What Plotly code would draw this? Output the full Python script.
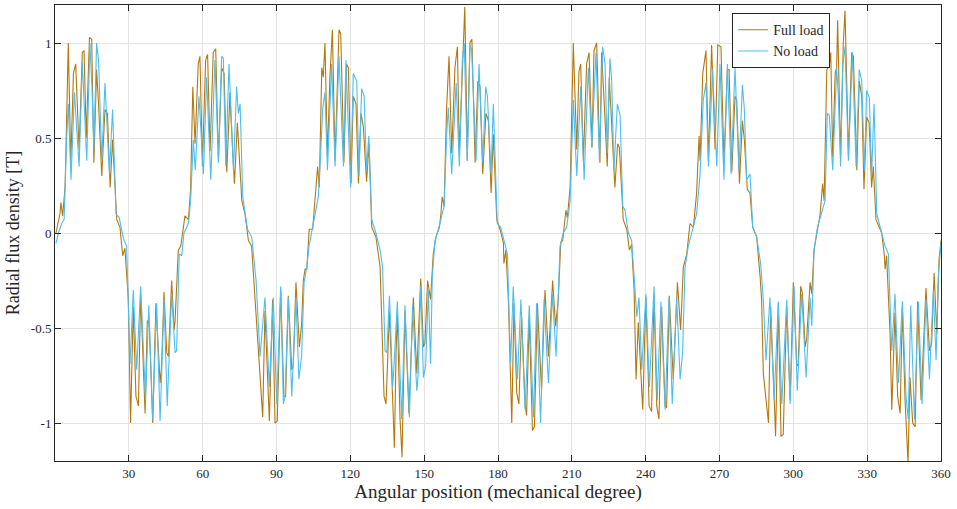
import plotly.graph_objects as go

# Full load: (mechanical degree, radial flux density [T]) read at turning points
full_load = [
    (0.4,0.0),(2.0,0.10),(2.4,0.16),(3.1,0.09),(4.1,0.24),(5.4,1.0),(6.4,0.37),(7.5,0.84),(8.4,0.89),(9.8,0.44),
    (11.1,0.95),(11.8,0.96),(12.7,0.50),(14.0,1.03),(14.9,1.02),(15.8,0.37),(16.9,0.86),(17.6,0.70),(19.0,0.30),
    (20.3,0.65),(21.3,0.63),(22.4,0.24),(23.4,0.49),(25.1,0.07),(26.4,0.03),(27.5,-0.12),(28.4,-0.08),(29.8,-0.35),
    (30.7,-1.0),(31.2,-0.70),(31.8,-0.39),(32.9,-0.86),(33.9,-0.91),(34.8,-0.32),(36.6,-0.95),(37.5,-0.46),
    (38.3,-0.48),(39.7,-1.0),(41.0,-0.37),(42.7,-0.79),(43.3,-0.70),
    (44.3,-0.31),(45.4,-0.63),(46.1,-0.65),(47.4,-0.25),(48.4,-0.51),(48.8,-0.46),(50.1,-0.09),(51.1,-0.07),
    (52.8,0.09),(54.2,0.07),(55.1,0.23),(56.0,0.77),(56.9,0.47),(58.2,0.89),(58.9,0.93),(59.9,0.35),(61.2,0.91),
    (62.0,0.94),(63.0,0.43),(64.3,0.95),(65.3,0.97),(66.4,0.38),(67.7,0.87),(68.7,0.84),(69.8,0.32),(71.1,0.74),
    (71.5,0.61),(72.9,0.26),(74.1,0.58),(74.6,0.47),(75.9,0.17),(77.2,0.10),(78.6,-0.04),(79.9,-0.07),(81.3,-0.35),
    (82.0,-0.51),(83.3,-0.81),(84.4,-0.97),(85.3,-0.41),(87.1,-0.99),
    (88.4,-0.35),(89.4,-1.0),(90.3,-0.99),(91.7,-0.30),(93.0,-0.86),(93.7,-0.86),(94.8,-0.33),(96.2,-0.72),
    (96.8,-0.70),(97.9,-0.26),(99.3,-0.60),(100.2,-0.48),(100.9,-0.25),(101.6,-0.19),(102.3,-0.19),(103.3,0.02),
    (104.7,0.02),(106.1,0.24),(106.7,0.35),(107.4,0.24),(108.4,0.87),(109.0,0.82),(109.7,1.0),(110.7,0.40),
    (111.7,0.82),(112.7,1.07),(113.8,0.38),(115.4,1.07),(116.1,1.05),(117.4,0.37),(118.5,0.89),(119.2,0.87),
    (120.3,0.26),(121.2,0.72),(122.3,0.68),(123.3,0.26),(124.3,0.63),(125.3,0.56),(126.6,0.27),(127.6,0.47),
    (128.7,0.03),(130.4,-0.02),
    (132.1,-0.18),(133.7,-0.86),(134.5,-0.90),(135.9,-0.41),(137.2,-0.86),(137.9,-1.13),(138.6,-0.62),(139.1,-0.42),
    (140.2,-0.98),(141.0,-1.18),(142.2,-0.41),(143.8,-0.95),(145.6,-0.34),(147.0,-0.74),(148.6,-0.24),(149.7,-0.60),
    (150.3,-0.58),(151.4,-0.25),(152.6,-0.35),(153.7,-0.11),(154.8,-0.02),(156.2,0.03),(156.8,0.10),(157.3,0.19),
    (158.1,0.14),(159.1,0.65),(160.1,0.93),(161.2,0.42),(162.5,0.87),(163.5,0.98),(164.3,0.42),(165.9,0.93),
    (166.5,1.19),(167.0,0.82),(167.5,0.38),(168.6,1.0),(169.4,1.02),(170.7,0.37),(171.8,0.80),(172.7,0.77),
    (173.8,0.31),(175.1,0.63),(176.1,0.59),(177.2,0.21),
    (178.1,0.52),(179.5,0.07),(180.8,0.02),(182.2,-0.05),(182.4,-0.16),(183.2,-0.09),(184.2,-0.35),(185.6,-1.0),
    (186.5,-0.37),(187.6,-0.84),(188.5,-0.90),(189.6,-0.44),(191.0,-0.90),(191.6,-0.96),(192.7,-0.44),(194.0,-1.04),
    (194.8,-1.02),(196.0,-0.37),(197.1,-0.70),(197.7,-0.83),(199.1,-0.30),(200.5,-0.65),(202.2,-0.25),(203.4,-0.49),
    (204.5,-0.35),(205.5,-0.05),(206.3,-0.04),(207.6,0.12),(208.2,0.08),(209.3,0.24),(210.6,1.0),(212.0,0.44),
    (212.9,0.85),(213.6,0.89),(214.7,0.38),(216.0,0.89),(217.0,0.95),(218.2,0.45),(219.0,0.96),(220.1,1.0),(221.4,0.37),
    (222.1,0.95),(223.1,0.70),(224.4,0.35),(225.2,0.82),(226.2,0.59),(227.5,0.24),(228.6,0.47),(229.3,0.45),
    (230.9,0.07),(232.3,0.02),(233.4,-0.09),(234.3,-0.06),(235.3,-0.30),(236.1,-0.77),(237.0,-0.47),(238.8,-0.93),
    (240.1,-0.34),(241.4,-0.91),(242.4,-0.94),(243.4,-0.32),(244.5,-0.91),(245.4,-0.98),(246.5,-0.39),(247.9,-0.91),
    (248.5,-0.92),(249.6,-0.33),(251.2,-0.77),(252.9,-0.26),(254.2,-0.51),(255.3,-0.18),(256.7,-0.11),(258.0,0.05),
    (259.4,0.03),(260.7,0.21),(261.7,0.51),(262.1,0.38),(263.2,0.84),(264.5,0.96),(265.5,0.38),
    (266.8,0.99),(268.2,0.44),(269.3,0.99),(270.6,0.98),(271.8,0.37),(273.2,0.86),(273.9,0.86),(275.0,0.32),
    (276.3,0.72),(277.0,0.70),(278.1,0.26),(279.3,0.59),(280.1,0.49),(281.3,0.23),(282.4,0.21),(283.5,0.03),
    (285.1,-0.02),(286.5,-0.23),(287.1,-0.35),(287.8,-0.74),(288.9,-0.86),(289.9,-1.0),(290.8,-0.39),(291.9,-0.81),
    (292.8,-1.07),(293.9,-0.37),(295.0,-1.07),(295.9,-1.06),(297.3,-0.38),(298.7,-0.88),(300.0,-0.26),(301.4,-0.70),
    (302.0,-0.69),(303.0,-0.28),(303.7,-0.32),(304.8,-0.60),(305.4,-0.56),(306.8,-0.26),(307.5,-0.32),(308.4,-0.09),
    (309.8,0.03),
    (310.9,0.10),(311.9,0.26),(312.5,0.17),(313.6,0.86),(314.6,0.88),(315.2,0.95),(316.0,0.40),(317.0,0.84),
    (317.6,0.87),(318.0,1.12),(318.7,0.70),(319.2,0.40),(320.3,1.0),(321.0,1.17),(321.7,0.79),(322.4,0.40),
    (323.7,0.95),(324.4,0.93),(325.8,0.33),(326.8,0.80),(327.8,0.72),(328.7,0.23),(329.8,0.61),(330.8,0.58),
    (331.8,0.24),(332.5,0.35),(333.6,0.07),(334.9,0.03),(335.9,0.0),(337.0,-0.12),(337.3,-0.19),(337.9,-0.12),
    (339.3,-0.53),(340.0,-0.93),(341.3,-0.42),(342.4,-0.86),(343.4,-0.95),(344.3,-0.39),(345.4,-0.88),(346.6,-1.21),
    (347.4,-0.76),(348.5,-1.0),(349.5,-1.02),(350.5,-0.36),(351.9,-0.88),(353.9,-0.29),(355.3,-0.62),(356.2,-0.58),
    (357.2,-0.21),(358.3,-0.53),(359.2,-0.14),(360.0,-0.04),
]

# No load: (mechanical degree, radial flux density [T]) read at turning points
no_load = [
    (0.4,-0.055),(1.4,0.0),(2.7,0.05),(3.7,0.07),(4.7,0.49),(5.4,0.68),(6.5,0.28),(7.9,0.74),(9.8,0.35),(11.1,0.90),
    (12.9,0.38),(14.2,1.0),(15.0,0.77),(15.8,0.44),(16.9,1.0),(17.7,0.91),(19.0,0.38),(20.3,0.79),(22.1,0.31),
    (23.4,0.65),(24.8,0.10),(26.1,0.08),(27.8,-0.03),(29.1,-0.07),(30.5,-0.69),(31.8,-0.30),(33.2,-0.72),(34.8,-0.28),
    (36.8,-0.88),(38.1,-0.38),(39.7,-0.98),(41.3,-0.37),(42.7,-0.99),
    (44.3,-0.35),(45.6,-0.91),(47.4,-0.32),(48.8,-0.63),(49.4,-0.62),(50.5,-0.11),(51.5,-0.12),(52.4,0.0),(54.2,0.05),
    (55.1,0.17),(56.2,0.49),(57.0,0.33),(58.5,0.72),(60.3,0.31),(61.6,0.82),(63.3,0.28),(65.0,0.91),(66.4,0.37),
    (67.7,0.93),(68.4,0.92),(69.4,0.35),(70.7,0.89),(72.5,0.33),(73.8,0.77),(74.5,0.63),(75.2,0.68),(76.3,0.19),
    (78.2,0.02),(79.9,-0.02),(81.7,-0.25),(83.3,-0.65),(85.3,-0.34),(87.1,-0.81),(88.7,-0.34),
    (90.1,-0.90),(91.7,-0.28),(92.8,-0.90),(93.5,-0.86),(94.8,-0.34),(96.2,-0.86),(97.9,-0.34),(99.1,-0.77),
    (100.2,-0.65),(101.2,-0.26),(102.3,-0.18),(103.2,-0.07),(104.7,0.03),(105.6,0.10),(107.0,0.19),(108.0,0.44),
    (108.8,0.66),(109.7,0.74),(110.7,0.33),(112.4,0.89),(113.8,0.35),(115.4,0.93),(117.2,0.35),(118.2,0.91),
    (120.1,0.24),(121.2,0.84),(122.6,0.80),(123.5,0.30),(124.6,0.76),(125.6,0.72),(126.6,0.33),(127.5,0.51),
    (128.7,0.07),(130.4,0.0),
    (132.1,-0.09),(133.1,-0.18),(134.1,-0.62),(134.8,-0.63),(135.9,-0.33),(137.2,-0.81),(137.7,-0.71),(139.1,-0.36),
    (140.2,-0.76),(140.9,-0.98),(142.2,-0.38),(144.0,-0.97),(145.3,-0.38),(147.0,-0.83),(147.6,-0.74),(148.6,-0.28),
    (149.7,-0.76),(150.6,-0.70),(151.7,-0.30),(152.6,-0.69),(153.3,-0.23),(154.4,-0.04),(155.8,0.02),(157.1,0.09),
    (158.1,0.14),(159.1,0.51),(159.8,0.66),(161.2,0.31),(163.0,0.79),(164.3,0.35),(165.5,0.91),(166.3,1.0),
    (167.5,0.38),(168.6,0.99),(169.3,0.96),(171.1,0.38),(172.3,0.89),(173.8,0.37),(175.0,0.77),(175.7,0.72),(177.2,0.31),
    (178.1,0.68),(178.8,0.35),(179.7,0.05),(181.1,0.03),(182.8,-0.05),(183.8,-0.11),(185.1,-0.69),(186.2,-0.28),
    (187.9,-0.77),(189.3,-0.35),(191.0,-0.93),(192.7,-0.38),(194.4,-0.97),(195.7,-0.37),(197.3,-1.0),(198.7,-0.35),
    (200.5,-0.79),(202.1,-0.32),(203.6,-0.65),(205.2,-0.07),(206.5,0.0),(207.9,0.03),(209.3,0.17),(210.6,0.70),
    (212.0,0.30),(213.6,0.77),(215.0,0.28),(216.7,0.87),(218.1,0.45),(219.8,0.95),(221.2,0.38),
    (222.5,0.98),(223.5,0.89),(224.4,0.42),(225.5,0.92),(226.2,0.80),(227.1,0.33),(228.5,0.68),(229.6,0.62),
    (230.7,0.14),(231.6,0.12),(233.0,0.0),(234.3,-0.04),(235.7,-0.32),(236.4,-0.44),(237.3,-0.34),(238.4,-0.72),
    (240.1,-0.32),(241.5,-0.81),(243.4,-0.28),(244.7,-0.88),(246.2,-0.36),(247.9,-0.93),(249.5,-0.34),(250.8,-0.90),
    (252.6,-0.34),(254.0,-0.77),(255.0,-0.63),(256.0,-0.18),(257.3,-0.07),(259.1,0.02),(260.7,0.10),(262.1,0.31),
    (263.4,0.70),(264.5,0.79),(265.5,0.35),
    (267.2,0.86),(268.9,0.35),(270.2,0.89),(271.8,0.28),(273.2,0.89),(274.7,0.31),(276.3,0.87),(277.9,0.33),
    (279.3,0.78),(280.1,0.65),(281.0,0.28),(282.4,0.31),(283.5,0.03),(285.1,-0.02),(286.7,-0.16),(287.8,-0.35),
    (288.9,-0.67),(290.5,-0.34),(292.2,-0.88),(293.9,-0.36),(295.3,-0.90),(297.3,-0.35),(298.7,-0.90),(300.3,-0.28),
    (301.6,-0.83),(303.4,-0.32),(305.2,-0.76),(306.8,-0.34),(307.5,-0.49),(308.4,-0.09),(309.8,0.03),
    (311.9,0.12),(312.9,0.17),(313.8,0.63),(314.6,0.62),(316.0,0.33),(317.6,0.87),(318.3,0.72),(319.2,0.35),
    (320.1,0.89),(321.0,0.98),(322.4,0.38),(324.0,0.95),(325.5,0.35),(326.8,0.86),(327.8,0.80),(328.9,0.33),
    (329.8,0.75),(330.9,0.71),(331.8,0.30),(332.8,0.68),(333.9,0.10),(335.2,0.03),(337.3,-0.07),(338.6,-0.11),
    (340.0,-0.62),(341.3,-0.32),(342.7,-0.79),(344.3,-0.36),(345.8,-0.86),(346.7,-0.98),(347.7,-0.38),(349.2,-0.98),
    (350.8,-0.36),(352.3,-0.90),(353.9,-0.35),(355.3,-0.77),(356.9,-0.30),(358.0,-0.67),(358.9,-0.23),(360.0,-0.05),
]

x_ticks = [30, 60, 90, 120, 150, 180, 210, 240, 270, 300, 330, 360]
y_ticks = [-1, -0.5, 0, 0.5, 1]
y_tick_labels = ["-1", "-0.5", "0", "0.5", "1"]

fl_deg, fl_T = zip(*full_load)
nl_deg, nl_T = zip(*no_load)

FONT = "Liberation Serif"
fig = go.Figure()
fig.add_trace(go.Scatter(x=fl_deg, y=fl_T, mode="lines", name="Full load",
                         line=dict(color="#B5780D", width=1.1)))
fig.add_trace(go.Scatter(x=nl_deg, y=nl_T, mode="lines", name="No load",
                         line=dict(color="#4DBEEE", width=1.1)))

axis_common = dict(showline=True, linecolor="#262626", linewidth=1, mirror="allticks",
                   ticks="inside", ticklen=6, tickcolor="#262626",
                   showgrid=True, gridcolor="#E3E3E3", gridwidth=1, zeroline=False,
                   tickfont=dict(family=FONT, size=13, color="#262626"))

fig.update_layout(
    width=957, height=509,
    margin=dict(l=55, r=16, t=5, b=48),
    paper_bgcolor="white", plot_bgcolor="white",
    font=dict(family=FONT, color="#262626"),
    xaxis=dict(range=[0, 360], tickvals=x_ticks,
               title=dict(text="Angular position (mechanical degree)", font=dict(family=FONT, size=19), standoff=4),
               **axis_common),
    yaxis=dict(range=[-1.2, 1.2], tickvals=y_ticks, ticktext=y_tick_labels,
               title=dict(text="Radial flux density [T]", font=dict(family=FONT, size=18), standoff=6),
               **axis_common),
    legend=dict(x=0.875, y=0.982, xanchor="right", yanchor="top",
                bgcolor="white", bordercolor="#262626", borderwidth=1,
                font=dict(family=FONT, size=14, color="#262626"),
                tracegroupgap=0, itemwidth=30),
    showlegend=True,
)

fig.write_html("out.html")
